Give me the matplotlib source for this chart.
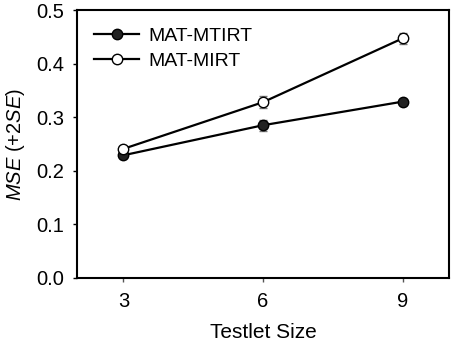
import matplotlib
matplotlib.use("Agg")
import matplotlib.pyplot as plt
from matplotlib.lines import Line2D

plt.rcParams['font.family'] = ['Liberation Sans', 'DejaVu Sans']
plt.rcParams['mathtext.fontset'] = 'custom'
plt.rcParams['mathtext.it'] = 'Liberation Sans:italic'
plt.rcParams['mathtext.rm'] = 'Liberation Sans'

# data
testlet_size = [3, 6, 9]
mtirt = [0.229, 0.285, 0.329]
mtirt_err = [0.004, 0.010, 0.004]
mirt = [0.241, 0.328, 0.447]
mirt_err = [0.004, 0.011, 0.010]

fig = plt.figure(figsize=(4.54, 3.44), dpi=100)
ax = fig.add_axes([0.1696, 0.1919, 0.8194, 0.779])

ax.errorbar(testlet_size, mtirt, yerr=mtirt_err, color='black', lw=1.6,
            marker='o', ms=7.5, mfc='#222222', mec='black', mew=1,
            ecolor='#777777', elinewidth=1, capsize=3, zorder=3)
ax.errorbar(testlet_size, mirt, yerr=mirt_err, color='black', lw=1.6,
            marker='o', ms=7.5, mfc='white', mec='black', mew=1,
            ecolor='#777777', elinewidth=1, capsize=3, zorder=4)

ax.set_xlim(2, 10)
ax.set_ylim(0, 0.5)
ax.set_xticks([3, 6, 9])
ax.set_yticks([0.0, 0.1, 0.2, 0.3, 0.4, 0.5])
ax.set_yticklabels(['0.0', '0.1', '0.2', '0.3', '0.4', '0.5'])
for s in ax.spines.values():
    s.set_linewidth(1.5)
ax.tick_params(axis='both', direction='out', length=3, width=1, labelsize=14.5)
ax.tick_params(axis='x', pad=7, colors='#555555', labelcolor='black')
ax.tick_params(axis='y', pad=6)

ax.set_xlabel('Testlet Size', fontsize=15, labelpad=9)
ax.set_ylabel(r'$\mathit{MSE}$ (+2$\mathit{SE}$)', fontsize=14.5, labelpad=7)

handles = [
    Line2D([], [], color='black', lw=1.6, marker='o', ms=7.5, mfc='#222222', mec='black'),
    Line2D([], [], color='black', lw=1.6, marker='o', ms=7.5, mfc='white', mec='black'),
]
ax.legend(handles, ['MAT-MTIRT', 'MAT-MIRT'], loc='upper left', frameon=False,
          fontsize=14, handlelength=2.3, handletextpad=0.45, labelspacing=0.35,
          borderaxespad=0.4, borderpad=0.5)

fig.savefig('out.png', dpi=100)
